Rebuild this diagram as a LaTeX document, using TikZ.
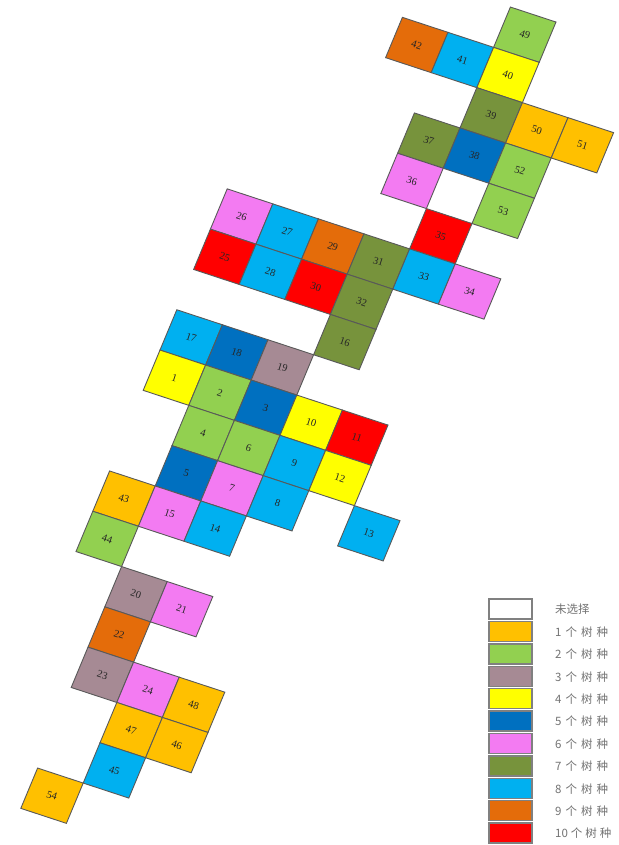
\documentclass[tikz,border=0pt]{standalone}
\usepackage{fontspec}
\setmainfont{Liberation Serif}
\newfontfamily\cjk{Noto Sans CJK SC}
\definecolor{cA}{HTML}{FFC000}
\definecolor{cB}{HTML}{92D050}
\definecolor{cC}{HTML}{A68A94}
\definecolor{cD}{HTML}{FFFF00}
\definecolor{cE}{HTML}{0070C0}
\definecolor{cF}{HTML}{F37BF2}
\definecolor{cG}{HTML}{77933C}
\definecolor{cH}{HTML}{00B0F0}
\definecolor{cI}{HTML}{E46C0A}
\definecolor{cJ}{HTML}{FF0000}
\tikzset{
  cellbox/.style={draw=black!65, line width=0.9pt},
  celltext/.style={font=\fontsize{10.5}{10.5}\selectfont, text=black!85, rotate=-18, inner sep=0pt},
  legbox/.style={draw=black!50, line width=1.4pt},
  legtext/.style={font=\cjk\fontsize{11.5}{11.5}\selectfont, text=black!55, anchor=west, inner sep=0pt}
}
\newcommand\gcell[4]{%
  \filldraw[cellbox, fill=#3] (#1-0.5,#2-0.5) -- (#1+0.5,#2-0.5) -- (#1+0.5,#2+0.5) -- (#1-0.5,#2+0.5) -- cycle;
  \node[celltext] (n#4) at (#1,#2) {#4};}
\newcommand\legitem[4]{% index, fill, name, text
  \draw[legbox, fill=#2] (489,{599+22.4*#1}) rectangle (532,{619+22.4*#1});
  \node[legtext] (#3) at (555,{609.5+22.4*#1}) {#4};}
\begin{document}
\begin{tikzpicture}[x=1pt,y=-1pt]
\useasboundingbox (0,0) rectangle (618,845);
\fill[white] (0,0) rectangle (618,845);
\begin{scope}[shift={(508pt,-75pt)}, x={(45.6pt,-15pt)}, y={(-16.8pt,-40.3pt)}]
\gcell{-2}{0}{cI}{42}
\gcell{-1}{0}{cH}{41}
\gcell{0}{-1}{cB}{49}
\gcell{0}{0}{cD}{40}
\gcell{0}{1}{cG}{39}
\gcell{1}{1}{cA}{50}
\gcell{2}{1}{cA}{51}
\gcell{-1}{2}{cG}{37}
\gcell{0}{2}{cE}{38}
\gcell{1}{2}{cB}{52}
\gcell{-1}{3}{cF}{36}
\gcell{1}{3}{cB}{53}
\gcell{0}{4}{cJ}{35}
\gcell{-4}{5}{cF}{26}
\gcell{-3}{5}{cH}{27}
\gcell{-2}{5}{cI}{29}
\gcell{-1}{5}{cG}{31}
\gcell{0}{5}{cH}{33}
\gcell{1}{5}{cF}{34}
\gcell{-4}{6}{cJ}{25}
\gcell{-3}{6}{cH}{28}
\gcell{-2}{6}{cJ}{30}
\gcell{-1}{6}{cG}{32}
\gcell{-1}{7}{cG}{16}
\gcell{-4}{8}{cH}{17}
\gcell{-3}{8}{cE}{18}
\gcell{-2}{8}{cC}{19}
\gcell{-4}{9}{cD}{1}
\gcell{-3}{9}{cB}{2}
\gcell{-2}{9}{cE}{3}
\gcell{-1}{9}{cD}{10}
\gcell{0}{9}{cJ}{11}
\gcell{-3}{10}{cB}{4}
\gcell{-2}{10}{cB}{6}
\gcell{-1}{10}{cH}{9}
\gcell{0}{10}{cD}{12}
\gcell{-3}{11}{cE}{5}
\gcell{-2}{11}{cF}{7}
\gcell{-1}{11}{cH}{8}
\gcell{1}{11}{cH}{13}
\gcell{-4}{12}{cA}{43}
\gcell{-3}{12}{cF}{15}
\gcell{-2}{12}{cH}{14}
\gcell{-4}{13}{cB}{44}
\gcell{-3}{14}{cC}{20}
\gcell{-2}{14}{cF}{21}
\gcell{-3}{15}{cI}{22}
\gcell{-3}{16}{cC}{23}
\gcell{-2}{16}{cF}{24}
\gcell{-1}{16}{cA}{48}
\gcell{-2}{17}{cA}{47}
\gcell{-1}{17}{cA}{46}
\gcell{-2}{18}{cH}{45}
\gcell{-3}{19}{cA}{54}
\end{scope}
\legitem{0}{white}{l0}{未选择}
\legitem{1}{cA}{l1}{1\hspace{4pt}个\hspace{4pt}树\hspace{4pt}种}
\legitem{2}{cB}{l2}{2\hspace{4pt}个\hspace{4pt}树\hspace{4pt}种}
\legitem{3}{cC}{l3}{3\hspace{4pt}个\hspace{4pt}树\hspace{4pt}种}
\legitem{4}{cD}{l4}{4\hspace{4pt}个\hspace{4pt}树\hspace{4pt}种}
\legitem{5}{cE}{l5}{5\hspace{4pt}个\hspace{4pt}树\hspace{4pt}种}
\legitem{6}{cF}{l6}{6\hspace{4pt}个\hspace{4pt}树\hspace{4pt}种}
\legitem{7}{cG}{l7}{7\hspace{4pt}个\hspace{4pt}树\hspace{4pt}种}
\legitem{8}{cH}{l8}{8\hspace{4pt}个\hspace{4pt}树\hspace{4pt}种}
\legitem{9}{cI}{l9}{9\hspace{4pt}个\hspace{4pt}树\hspace{4pt}种}
\legitem{10}{cJ}{l10}{10\hspace{3pt}个\hspace{3pt}树\hspace{3pt}种}
\end{tikzpicture}
\end{document}
